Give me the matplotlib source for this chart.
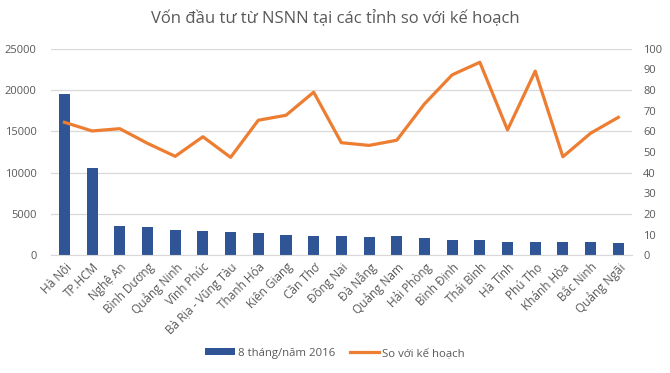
import matplotlib.pyplot as plt
import numpy as np

plt.rcParams['font.family'] = ['Open Sans', 'DejaVu Sans']

# Dữ liệu
tinh = ['Hà Nội', 'TP.HCM', 'Nghệ An', 'Bình Dương', 'Quảng Ninh', 'Vĩnh Phúc',
        'Bà Rịa - Vũng Tàu', 'Thanh Hóa', 'Kiên Giang', 'Cần Thơ', 'Đồng Nai',
        'Đà Nẵng', 'Quảng Nam', 'Hải Phòng', 'Bình Định', 'Thái Bình', 'Hà Tĩnh',
        'Phú Thọ', 'Khánh Hòa', 'Bắc Ninh', 'Quảng Ngãi']
von_8_thang = [19550, 10560, 3520, 3400, 3030, 2900, 2790, 2670, 2430, 2300, 2300,
               2180, 2300, 2060, 1820, 1820, 1580, 1580, 1580, 1580, 1460]
so_voi_ke_hoach = [64.4, 60.2, 61.3, 54.2, 47.9, 57.4, 47.4, 65.4, 67.8, 79.0, 54.5,
                   53.2, 55.7, 73.3, 87.4, 93.5, 60.7, 89.2, 47.7, 59.1, 66.8]

xam = '#595959'
x = np.arange(len(tinh))

fig = plt.figure(figsize=(6.7, 3.73), dpi=100)
ax = fig.add_axes([0.0755, 0.316, 0.868, 0.553])
ax2 = ax.twinx()

b = ax.bar(x, von_8_thang, width=0.4, color='#2F5597', label='8 tháng/năm 2016', zorder=2)
l, = ax2.plot(x, so_voi_ke_hoach, color='#ED7D31', lw=2.3, label='So với kế hoạch',
              solid_joinstyle='round')

ax.set_xlim(-0.5, len(tinh) - 0.5)
ax.set_ylim(0, 25000)
ax.set_yticks(range(0, 25001, 5000))
ax2.set_ylim(0, 100)
ax2.set_yticks(range(0, 101, 10))

ax.grid(axis='y', color='#D9D9D9', lw=0.9, zorder=0)
ax.set_axisbelow(True)
for a in (ax, ax2):
    for s in a.spines.values():
        s.set_visible(False)
    a.tick_params(length=0, colors=xam, labelsize=8)
ax.spines['bottom'].set_visible(True)
ax.spines['bottom'].set_color('#D9D9D9')

ax.set_xticks(x)
ax.set_xticklabels(tinh, rotation=45, ha='right', rotation_mode='anchor', fontsize=8.5)
ax.tick_params(axis='x', pad=4)
ax.tick_params(axis='y', pad=10)
ax2.tick_params(axis='y', pad=8)

fig.text(0.5, 0.95, 'Vốn đầu tư từ NSNN tại các tỉnh so với kế hoạch', ha='center',
         va='center', fontsize=12, color=xam)

fig.legend(handles=[b, l], loc='center', bbox_to_anchor=(0.5, 0.053), ncol=2,
           frameon=False, fontsize=8.2, labelcolor=xam, handlelength=2.6,
           handleheight=0.6, columnspacing=1.3, handletextpad=0.25)

fig.savefig('out.png', dpi=100)
